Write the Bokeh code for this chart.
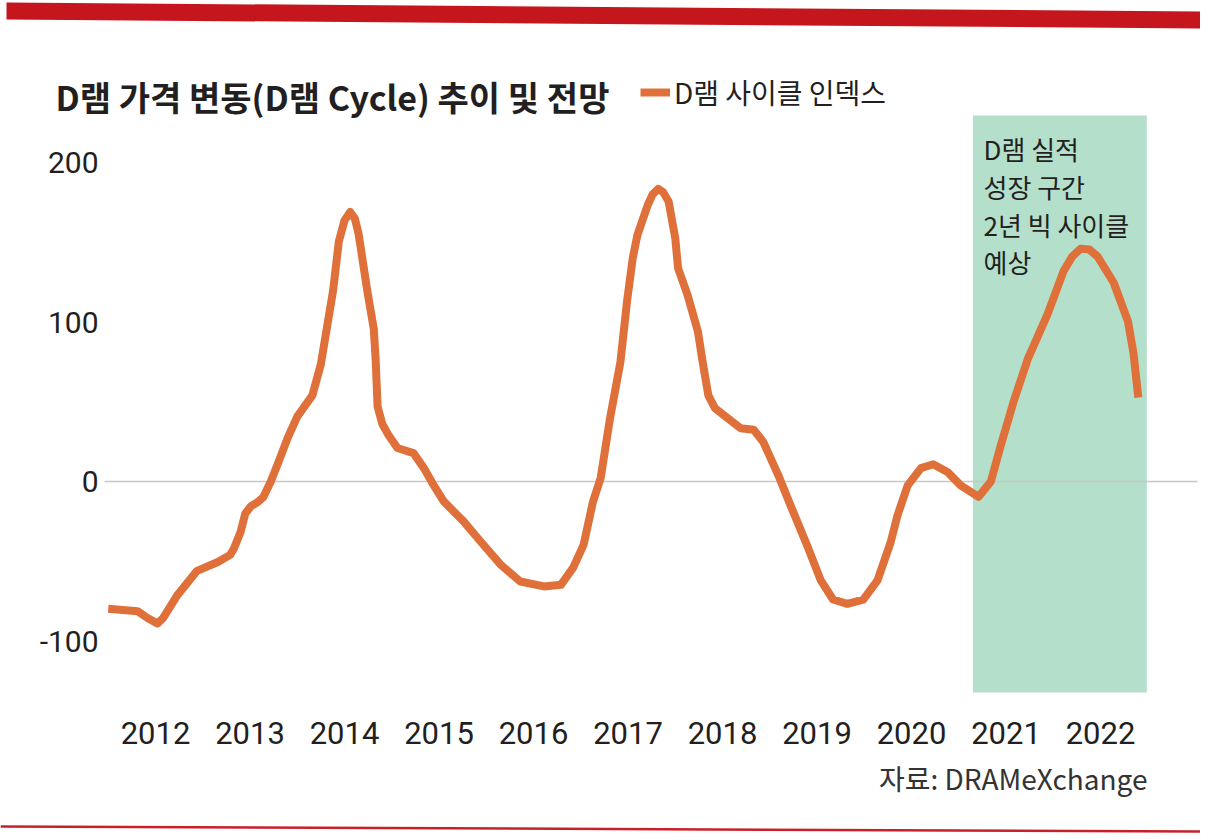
from bokeh.plotting import figure
from bokeh.models import Range1d, FixedTicker, Legend, LegendItem
from bokeh.core.properties import value
from bokeh.embed import file_html
from bokeh.resources import INLINE

# ---------------- data ----------------
years = [2011.50, 2011.81, 2011.92, 2012.02, 2012.08, 2012.23, 2012.44, 2012.66, 2012.79,
         2012.83, 2012.90, 2012.95, 2013.01, 2013.08, 2013.14, 2013.22, 2013.30, 2013.40,
         2013.50, 2013.66, 2013.75, 2013.88, 2013.94, 2014.00, 2014.06, 2014.11, 2014.15,
         2014.24, 2014.31, 2014.33, 2014.35, 2014.40, 2014.46, 2014.56, 2014.73, 2014.84,
         2014.94, 2015.05, 2015.26, 2015.44, 2015.65, 2015.86, 2016.11, 2016.29, 2016.42,
         2016.53, 2016.63, 2016.71, 2016.81, 2016.92, 2016.99, 2017.05, 2017.10, 2017.21,
         2017.26, 2017.32, 2017.37, 2017.43, 2017.50, 2017.53, 2017.63, 2017.74, 2017.79,
         2017.85, 2017.92, 2018.01, 2018.19, 2018.33, 2018.43, 2018.59, 2018.72, 2018.90,
         2019.04, 2019.17, 2019.32, 2019.49, 2019.64, 2019.78, 2019.85, 2019.96, 2020.10,
         2020.23, 2020.38, 2020.52, 2020.71, 2020.84, 2020.94, 2021.08, 2021.23, 2021.44,
         2021.61, 2021.70, 2021.79, 2021.88, 2021.97, 2022.14, 2022.29, 2022.35, 2022.40]
index_values = [-79.8, -81.3, -85.7, -89.0, -85.7, -71.4, -56.0, -50.5, -46.0,
                -42.0, -31.6, -20.0, -15.5, -13.0, -9.9, 0.0, 12.0, 27.5,
                40.7, 54.0, 73.6, 120.0, 150.5, 163.7, 169.0, 164.8, 155.0,
                120.0, 95.6, 75.8, 47.0, 36.0, 29.7, 21.0, 17.8, 8.4,
                -2.0, -12.5, -25.0, -37.6, -52.0, -62.7, -65.8, -64.8, -54.0,
                -39.7, -12.5, 2.0, 39.7, 75.0, 113.0, 140.0, 154.6, 173.5,
                180.0, 183.5, 181.5, 175.5, 152.6, 133.7, 117.0, 94.0, 75.0,
                54.0, 46.0, 41.8, 33.4, 32.4, 25.0, 4.0, -15.0, -40.7,
                -62.0, -74.0, -76.7, -74.0, -62.0, -38.0, -21.6, -2.4, 8.4,
                10.8, 6.0, -2.4, -9.6, 0.0, 21.6, 50.0, 76.7, 105.0,
                132.0, 141.0, 146.0, 145.5, 141.0, 124.6, 100.6, 80.0, 52.7]

y_ticks = [-100, 0, 100, 200]
y_tick_labels = ["-100", "0", "100", "200"]
x_ticks = [2012, 2013, 2014, 2015, 2016, 2017, 2018, 2019, 2020, 2021, 2022]
x_tick_labels = ["2012", "2013", "2014", "2015", "2016", "2017", "2018", "2019", "2020", "2021", "2022"]

shade_start = 2020.65
shade_end = 2022.49

title_text = "D램 가격 변동(D램 Cycle) 추이 및 전망"
legend_label = "D램 사이클 인덱스"
note_lines = ["D램 실적", "성장 구간", "2년 빅 사이클", "예상"]
source_text = "자료: DRAMeXchange"

# ---------------- layout helpers (canvas pixels -> data) ----------------
W, H = 1200, 834
X0_PX, PX_PER_YEAR = 155.0, 94.5
Y0_PX, PX_PER_UNIT = 481.0, 1.595


def X(px):
    return 2012 + (px - X0_PX) / PX_PER_YEAR


def Y(py):
    return (Y0_PX - py) / PX_PER_UNIT


INK = "#231f20"
ORANGE = "#e0703a"
GREEN = "#b3dfcb"
RED = "#c4161c"
KR = "Noto Sans CJK KR"
NUM = "Roboto"

p = figure(width=W, height=H,
           x_range=Range1d(X(0), X(W)), y_range=Range1d(Y(H), Y(0)),
           output_backend="svg", toolbar_location=None,
           min_border=0, min_border_left=0, min_border_right=0,
           min_border_top=0, min_border_bottom=0)
p.outline_line_color = None
p.grid.visible = False
p.background_fill_color = "white"
p.border_fill_color = "white"

# y axis
yax = p.yaxis[0]
yax.fixed_location = X(108)
yax.ticker = FixedTicker(ticks=y_ticks)
yax.major_label_overrides = {t: l for t, l in zip(y_ticks, y_tick_labels)}
yax.axis_line_color = None
yax.major_tick_line_color = None
yax.minor_tick_line_color = None
yax.major_label_standoff = 4
yax.major_label_text_font = NUM
yax.major_label_text_font_size = "30px"
yax.major_label_text_color = INK

# x axis
xax = p.xaxis[0]
xax.fixed_location = Y(711)
xax.ticker = FixedTicker(ticks=x_ticks)
xax.major_label_overrides = {t: l for t, l in zip(x_ticks, x_tick_labels)}
xax.axis_line_color = None
xax.major_tick_line_color = None
xax.minor_tick_line_color = None
xax.major_label_standoff = 4
xax.major_label_text_font = NUM
xax.major_label_text_font_size = "31px"
xax.major_label_text_color = INK

# decorations
p.patch(x=[X(6), X(1200), X(1200), X(6)], y=[Y(2), Y(11), Y(28), Y(19)],
        fill_color=RED, line_color=None)
p.line(x=[X(0), X(1200)], y=[Y(826), Y(831)], line_color="#c8202a", line_width=2.5)

# shaded forecast period
p.quad(left=[shade_start], right=[shade_end], bottom=[Y(692)], top=[Y(115)],
       fill_color=GREEN, line_color=None)

# zero line
p.line(x=[X(104), X(1197)], y=[0, 0], line_color="#c8c8c8", line_width=1.6)

# main series
r = p.line(years, index_values, line_color=ORANGE, line_width=8,
           line_join="round", line_cap="butt")

# texts
p.text(x=[X(55)], y=[Y(96)], text=[title_text], text_font=value(KR),
       text_font_style="bold", text_font_size="34px", text_color=INK,
       text_baseline="middle", text_align="left")

p.text(x=[X(983)] * 4, y=[Y(148), Y(186), Y(224), Y(261)], text=note_lines,
       text_font=value(KR), text_font_size="26px", text_color=INK,
       text_baseline="middle", text_align="left")

p.text(x=[X(1147)], y=[Y(777)], text=[source_text], text_font=value(KR),
       text_font_size="28px", text_color="#333333",
       text_baseline="middle", text_align="right")

legend = Legend(items=[LegendItem(label=legend_label, renderers=[r])],
                location=(640, 722), orientation="horizontal",
                glyph_width=30, glyph_height=20, label_standoff=4,
                padding=0, margin=0, spacing=0,
                border_line_color=None, background_fill_alpha=0,
                label_text_font=KR, label_text_font_size="28px",
                label_text_color=INK)
p.add_layout(legend)

open("out.html", "w").write(file_html(p, INLINE))
